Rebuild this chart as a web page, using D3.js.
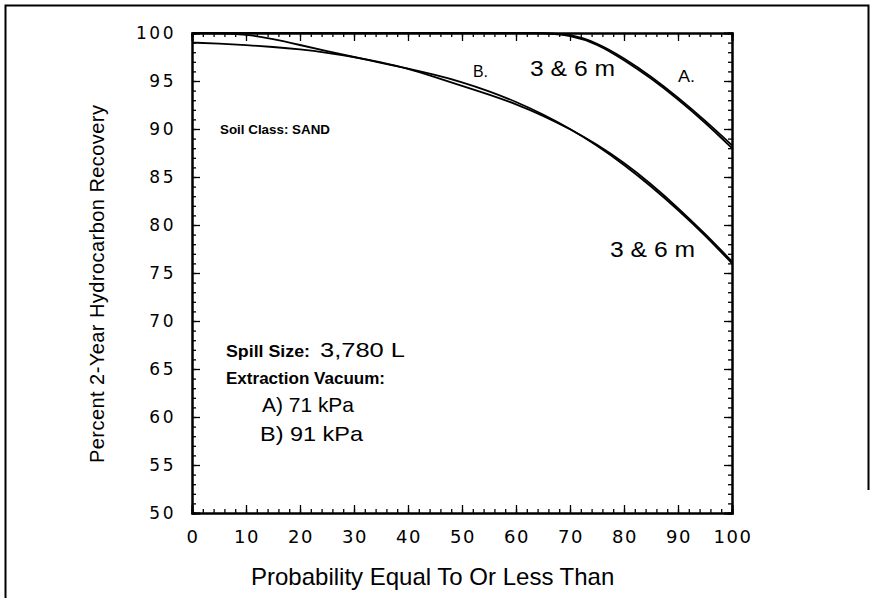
<!DOCTYPE html>
<html>
<head>
<meta charset="utf-8">
<script src="https://cdn.jsdelivr.net/npm/d3@7"></script>
<style>
  body { margin: 0; background: #fff; }
  svg { display: block; }
</style>
</head>
<body>
<script>
// probability (%) on x, recovery (%) on y
const probs = [0, 5, 10, 15, 20, 25, 30, 35, 40, 45, 50, 55, 60, 65, 70, 75, 80, 85, 90, 95, 100]

const a3m = [100, 100, 100, 100, 100, 100, 100, 100, 100, 100, 100, 100, 100, 100, 99.8, 98.9, 97.2, 95.3, 93.1, 90.7, 88.0]
const a6m = [100, 100, 100, 100, 100, 100, 100, 100, 100, 100, 100, 100, 100, 100, 99.9, 99.0, 97.4, 95.5, 93.3, 90.9, 88.3]
const b3m = [100, 100, 99.85, 99.4, 98.75, 98.1, 97.5, 96.9, 96.3, 95.65, 94.9, 93.95, 92.85, 91.55, 90.05, 88.3, 86.3, 84.05, 81.6, 78.95, 76.0]
const b6m = [99.0, 98.9, 98.75, 98.55, 98.3, 97.95, 97.5, 96.95, 96.3, 95.4, 94.5, 93.6, 92.6, 91.4, 90.0, 88.4, 86.5, 84.3, 81.8, 79.1, 76.2]

const xTicks = [0, 10, 20, 30, 40, 50, 60, 70, 80, 90, 100]
const yTicks = [50, 55, 60, 65, 70, 75, 80, 85, 90, 95, 100]

const W = 873
const H = 605
const sans = "'Liberation Sans', Arial, sans-serif"
const round = "'DejaVu Sans', sans-serif"

const svg = d3.select('body').append('svg')
  .attr('width', W)
  .attr('height', H)

// outer frame of the scanned figure
svg.append('path')
  .attr('d', 'M5.5,598 L5.5,5.5 L868.5,5.5 L868.5,490')
  .attr('fill', 'none')
  .attr('stroke', '#000')
  .attr('stroke-width', 2)

const x = d3.scaleLinear().domain([0, 100]).range([192, 732])
const y = d3.scaleLinear().domain([50, 100]).range([513, 33])

const g = svg.append('g')

// minor ticks, inward on all four sides
const xMinor = d3.range(0, 101, 2)
const yMinor = d3.range(50, 101, 1)

g.append('g').attr('transform', `translate(0,${y(50)})`)
  .call(d3.axisTop(x).tickValues(xMinor).tickSize(4).tickFormat(''))
g.append('g').attr('transform', `translate(0,${y(100)})`)
  .call(d3.axisBottom(x).tickValues(xMinor).tickSize(4).tickFormat(''))
g.append('g').attr('transform', `translate(${x(0)},0)`)
  .call(d3.axisRight(y).tickValues(yMinor).tickSize(4).tickFormat(''))
g.append('g').attr('transform', `translate(${x(100)},0)`)
  .call(d3.axisLeft(y).tickValues(yMinor).tickSize(4).tickFormat(''))

// major ticks
g.append('g').attr('transform', `translate(0,${y(50)})`)
  .call(d3.axisTop(x).tickValues(xTicks).tickSize(8).tickFormat(''))
g.append('g').attr('transform', `translate(0,${y(100)})`)
  .call(d3.axisBottom(x).tickValues(xTicks).tickSize(8).tickFormat(''))
g.append('g').attr('transform', `translate(${x(0)},0)`)
  .call(d3.axisRight(y).tickValues(yTicks).tickSize(8).tickFormat(''))
g.append('g').attr('transform', `translate(${x(100)},0)`)
  .call(d3.axisLeft(y).tickValues(yTicks).tickSize(8).tickFormat(''))

g.selectAll('.domain').attr('stroke-width', 2)
g.selectAll('.tick line').attr('stroke-width', 1.3)

g.selectAll('.xlab')
  .data(xTicks)
  .enter()
  .append('text')
  .attr('x', d => x(d) + 1)
  .attr('y', 543)
  .attr('text-anchor', 'middle')
  .style('font-family', round)
  .style('font-size', '18px')
  .style('letter-spacing', '1.5px')
  .text(d => d)

g.selectAll('.ylab')
  .data(yTicks)
  .enter()
  .append('text')
  .attr('x', 176)
  .attr('y', d => y(d) + 6)
  .attr('text-anchor', 'end')
  .style('font-family', round)
  .style('font-size', '17px')
  .style('letter-spacing', '2.5px')
  .text(d => d)

// curves
const line = d3.line()
  .x((d, i) => x(probs[i]))
  .y(d => y(d))
  .curve(d3.curveBasis)

const series = [a3m, a6m, b3m, b6m]
g.selectAll('.curve')
  .data(series)
  .enter()
  .append('path')
  .attr('d', line)
  .attr('fill', 'none')
  .attr('stroke', '#000')
  .attr('stroke-width', 1.8)

// axis titles
svg.append('text')
  .attr('x', 251)
  .attr('y', 585)
  .style('font-family', sans)
  .style('font-size', '24px')
  .text('Probability Equal To Or Less Than')

svg.append('text')
  .attr('transform', 'translate(104,284) rotate(-90)')
  .attr('text-anchor', 'middle')
  .attr('textLength', 358)
  .attr('lengthAdjust', 'spacing')
  .style('font-family', sans)
  .style('font-size', '20px')
  .text('Percent 2-Year Hydrocarbon Recovery')

// annotations
function note (tx, ty, str, size, len, weight) {
  const t = svg.append('text')
    .attr('x', tx)
    .attr('y', ty)
    .style('font-family', sans)
    .style('font-size', size + 'px')
    .style('font-weight', weight || 'normal')
    .text(str)
  if (len) t.attr('textLength', len).attr('lengthAdjust', 'spacingAndGlyphs')
}

note(220, 134, 'Soil Class: SAND', 13, 110, 'bold')
note(226, 357, 'Spill Size:', 16, 84, 'bold')
note(320, 357, '3,780 L', 21, 85)
note(226, 384, 'Extraction Vacuum:', 16, 159, 'bold')
note(262, 412, 'A) 71 kPa', 21, 92)
note(260, 441, 'B) 91 kPa', 21, 103)

note(473, 77, 'B.', 16, 15)
note(530, 76, '3 & 6 m', 22, 85)
note(678, 82, 'A.', 16, 17)
note(610, 257, '3 & 6 m', 22, 85)
</script>
</body>
</html>
